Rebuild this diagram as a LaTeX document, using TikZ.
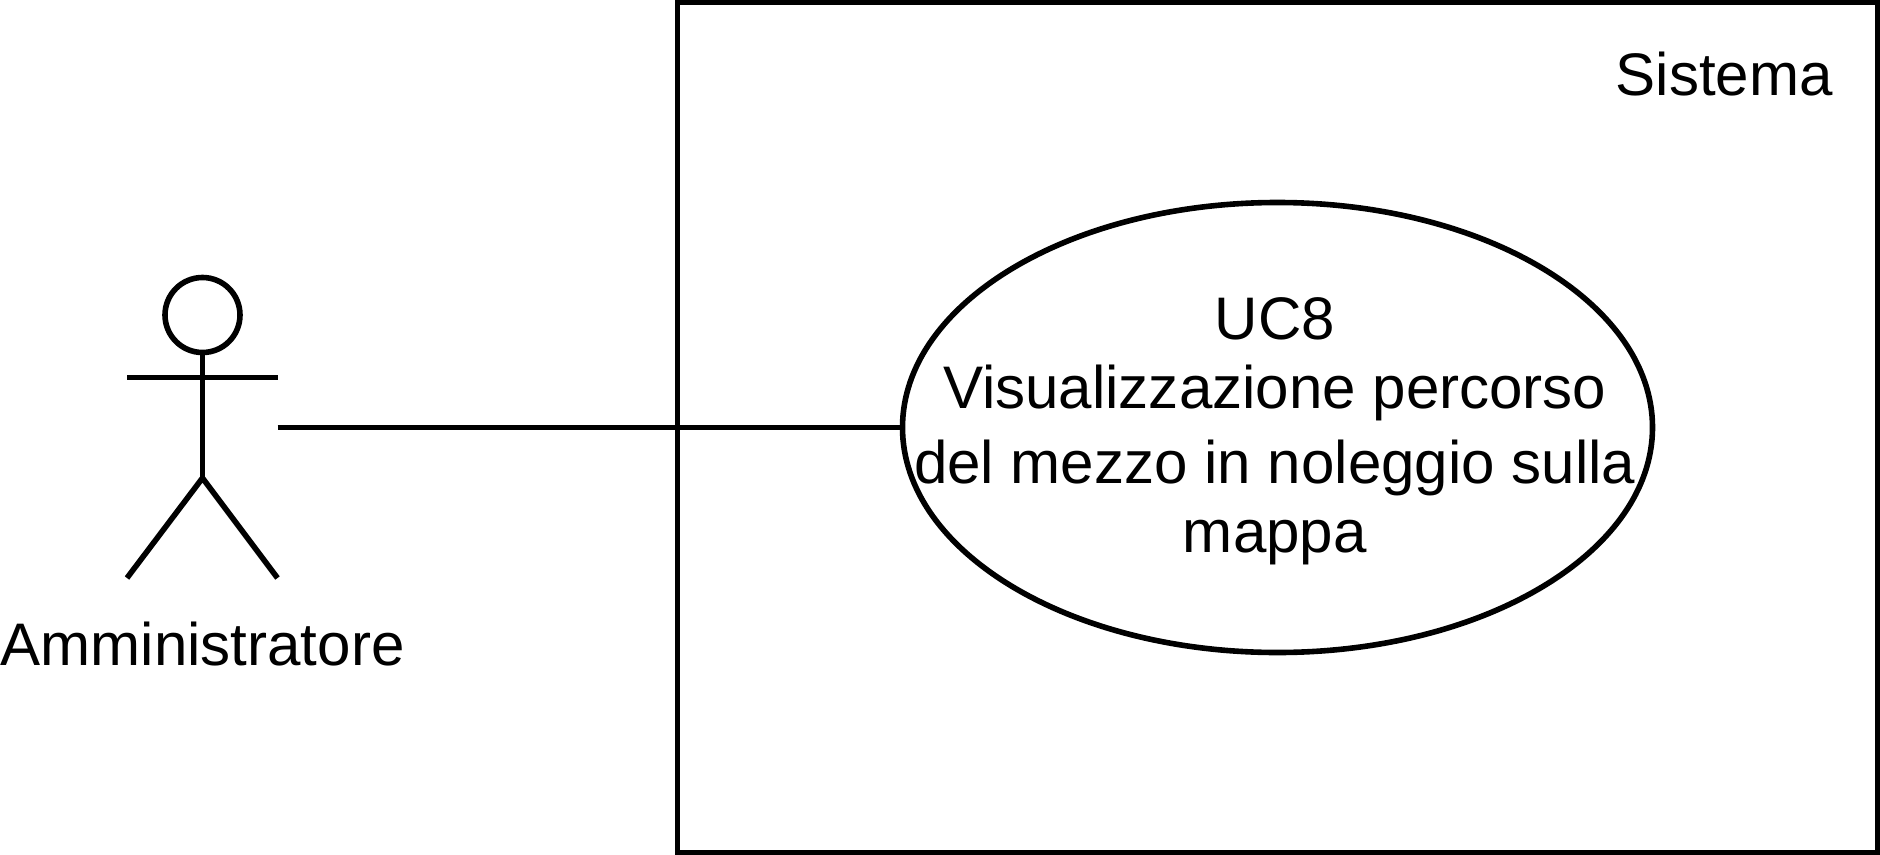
\documentclass[tikz,border=0pt]{standalone}
\usepackage{fontspec}
\setmainfont{Liberation Sans}
\usetikzlibrary{shapes.geometric}
\tikzset{
  ink/.style={draw=black,line width=5.6bp,outer sep=0pt},
  label/.style={font=\fontsize{60.3}{72}\selectfont,align=center,inner sep=0pt,text=black},
}
\begin{document}
\begin{tikzpicture}[x=1bp,y=-1bp,line cap=butt]
\useasboundingbox (0,0) rectangle (1880,855);
\node[ink,minimum width=1200bp,minimum height=850bp,inner sep=0pt,anchor=north west] (sys) at (677.5,2.5) {};
\node[label,anchor=base east] (systxt) at (1833,95) {Sistema};
\node[ink,ellipse,minimum width=750bp,minimum height=450bp,inner sep=0pt] (uc) at (1277.5,427.5) {};
\node[label] (uctxt) at (1274.8,431.5) {UC8\\[-2.5bp]Visualizzazione percorso\\[2.5bp]del mezzo in noleggio sulla\\[-2bp]mappa};
\node[ink,circle,minimum size=75bp,inner sep=0pt] (head) at (202.5,315) {};
\coordinate (hip) at (202.5,478);
\coordinate (armL) at (127,377.5);
\coordinate (armR) at (277.5,377.5);
\coordinate (footL) at (127,578);
\coordinate (footR) at (277.5,578);
\coordinate (actorEdge) at (277.5,427.5);
\draw[ink] (head.south) -- (hip);
\draw[ink] (armL) -- (armR);
\draw[ink] (footL) -- (hip) -- (footR);
\draw[ink] (actorEdge) -- (uc.west);
\node[label,anchor=base] (acttxt) at (202.5,665) {Amministratore};
\end{tikzpicture}
\end{document}
